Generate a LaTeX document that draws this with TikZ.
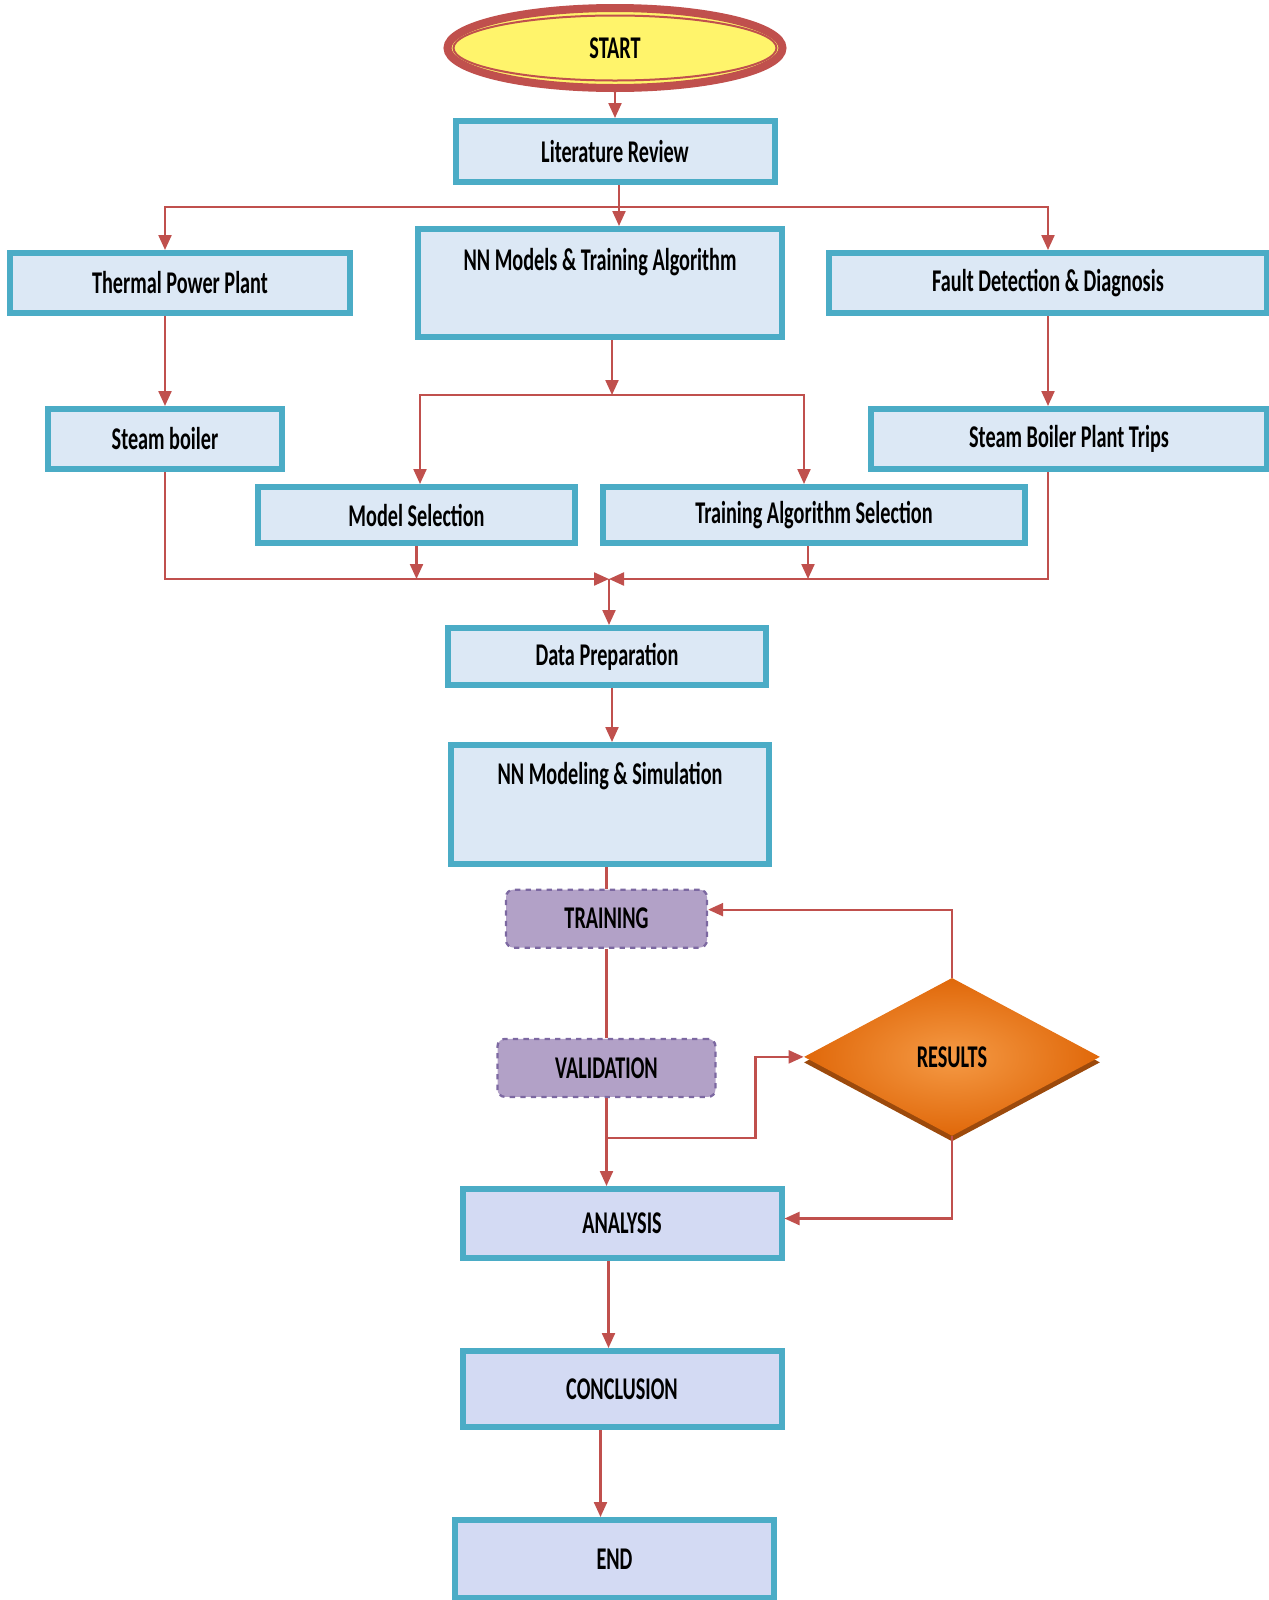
\documentclass[tikz,border=0pt]{standalone}
\usepackage{fontspec}
\setmainfont{Carlito}[FakeStretch=0.64]
\usepackage{tikz}
\usetikzlibrary{
  arrows.meta,
  shapes.geometric,
  positioning,
  shadows
}
\definecolor{fcTeal}{HTML}{4BACC6}
\definecolor{fcFill}{HTML}{DCE8F5}
\definecolor{fcFillB}{HTML}{D3DAF3}
\definecolor{fcRed}{HTML}{C0504D}
\definecolor{fcYellow}{HTML}{FFF46B}
\definecolor{fcPurple}{HTML}{B2A1C7}
\definecolor{fcPurpleDark}{HTML}{7C68A1}
\definecolor{fcOrange}{HTML}{E0680A}
\definecolor{fcOrangeLight}{HTML}{F59A45}
\definecolor{fcOrangeDark}{HTML}{9C4A0C}
\newcommand{\fcfont}{\fontsize{18}{21}\selectfont\bfseries}
\tikzset{
  fcnode/.style={
    draw=fcTeal, line width=1.2mm, fill=fcFill, inner sep=0pt,
    font=\fcfont, align=center
  },
  fcbox/.style={fcnode, minimum height=12mm},
  fcend/.style={fcnode, fill=fcFillB},
  tallbox/.style={fcnode, text height=4.5mm, text depth=#1},
  startnode/.style={
    ellipse, draw=fcRed, line width=1.6mm, fill=fcYellow, inner sep=0pt,
    minimum width=67mm, minimum height=16mm, font=\fcfont
  },
  stepbox/.style={
    draw=fcPurpleDark, dashed, line width=0.45mm, rounded corners=1.5mm,
    fill=fcPurple, minimum height=11.6mm, inner sep=0pt, font=\fcfont
  },
  decision/.style={
    diamond, inner sep=0pt, minimum width=59.2mm, minimum height=31.6mm,
    inner color=fcOrangeLight, outer color=fcOrange, font=\fcfont,
    drop shadow={shadow xshift=0mm, shadow yshift=-1.1mm, fill=fcOrangeDark, opacity=1}
  },
  flow/.style={-{Triangle[length=3mm, width=2.6mm]}, line width=0.45mm, fcRed},
  link/.style={line width=0.45mm, fcRed}
}
\begin{document}
\begin{tikzpicture}
  \useasboundingbox (0,0) rectangle (253.8mm,-320mm);
  % top
  \node[startnode] (start) at (123mm,-9.6mm) {START};
  \node[ellipse, draw=fcRed, line width=0.4mm, minimum width=64.6mm, minimum height=13mm] (startring) at (start) {};
  \node[fcbox, minimum width=63.8mm, minimum height=12.2mm, below=5.2mm of start] (lit) {Literature Review};
  % first row
  \node[tallbox=9.7mm, minimum width=72.8mm, minimum height=21.6mm, below=8.2mm of lit, xshift=-3mm] (nnm) {NN Models \& Training Algorithm};
  \node[fcbox, minimum width=68mm, left=12.4mm of nnm] (thermal) {Thermal Power Plant};
  \node[fcbox, minimum width=87.6mm, right=8.2mm of nnm] (fault) {Fault Detection \& Diagnosis};
  % second row
  \node[fcbox, minimum width=46.8mm, below=18mm of thermal, xshift=-3mm] (boiler) {Steam boiler};
  \node[fcbox, minimum width=79.2mm, below=18mm of fault, xshift=4.2mm] (trips) {Steam Boiler Plant Trips};
  \node[fcbox, minimum width=63.4mm, minimum height=11.2mm, below=28.8mm of nnm, xshift=-36.7mm] (modsel) {Model Selection};
  \node[fcbox, minimum width=84.4mm, minimum height=11.2mm, right=4.4mm of modsel] (trainsel) {Training Algorithm Selection};
  % main column
  \node[fcbox, minimum width=63.6mm, minimum height=11.4mm, below=57mm of nnm, xshift=1.4mm] (dataprep) {Data Preparation};
  \node[tallbox=12.7mm, minimum width=63.6mm, minimum height=23.8mm, below=10.8mm of dataprep, xshift=0.6mm] (nnsim) {NN Modeling \& Simulation};
  \node[stepbox, minimum width=40.2mm, below=4.3mm of nnsim, xshift=-0.7mm] (training) {TRAINING};
  \node[stepbox, minimum width=43.6mm, below=17.8mm of training] (validation) {VALIDATION};
  \node[decision, right=17.4mm of validation, yshift=2.2mm] (results) {RESULTS};
  \node[fcend, minimum width=63.8mm, minimum height=13.8mm, below=17.6mm of validation, xshift=3.1mm] (analysis) {ANALYSIS};
  \node[fcend, minimum width=63.8mm, minimum height=15.2mm, below=17.4mm of analysis] (conclusion) {CONCLUSION};
  \node[fcend, minimum width=63.8mm, minimum height=15.6mm, below=17.4mm of conclusion, xshift=-1.5mm] (stop) {END};
  % helper points
  \coordinate[below=4.4mm of lit.south, xshift=0.8mm] (split);
  \coordinate[below=11mm of nnm.south, xshift=2.4mm] (fork);
  \coordinate[above=9.2mm of dataprep.north, xshift=0.4mm] (merge);
  \coordinate[below=8mm of validation.south] (vbranch);
  % connectors
  \draw[flow] (start.south) -- (start.south |- lit.north);
  \draw[link] ([xshift=0.8mm]lit.south) -- (split);
  \draw[flow] (split) -- (split |- nnm.north);
  \draw[flow] (split) -| (boiler.north |- thermal.north);
  \draw[flow] (split) -| (fault.north);
  \draw[flow] (thermal.south -| boiler.north) -- (boiler.north);
  \draw[flow] (fault.south) -- (fault.south |- trips.north);
  \draw[flow] ([xshift=2.4mm]nnm.south) -- (fork);
  \draw[flow] (fork) -| ([xshift=0.7mm]modsel.north);
  \draw[flow] (fork) -| ([xshift=-2mm]trainsel.north);
  \draw[flow] (boiler.south) |- (merge);
  \draw[flow] (trips.south -| fault.south) |- (merge);
  \draw[flow] (modsel.south) -- (modsel.south |- merge);
  \draw[flow] ([xshift=-1.2mm]trainsel.south) -- ([xshift=-1.2mm]trainsel.south |- merge);
  \draw[flow] (merge) -- (merge |- dataprep.north);
  \draw[flow] ([xshift=1mm]dataprep.south) -- ([xshift=1mm]dataprep.south |- nnsim.north);
  \draw[link] (training.north |- nnsim.south) -- (training.north);
  \draw[link] (training) -- (validation);
  \draw[flow] (validation.south) -- (validation.south |- analysis.north);
  \draw[flow] (vbranch) -- ++(29.8mm,0) |- (results.west);
  \draw[flow] (results.north) |- ([yshift=1.8mm]training.east);
  \draw[flow] (results.south) |- ([yshift=1mm]analysis.east);
  \draw[flow] ([xshift=-2.7mm]analysis.south) -- ([xshift=-2.7mm]analysis.south |- conclusion.north);
  \draw[flow] ([xshift=-4.3mm]conclusion.south) -- ([xshift=-4.3mm]conclusion.south |- stop.north);
\end{tikzpicture}
\end{document}
